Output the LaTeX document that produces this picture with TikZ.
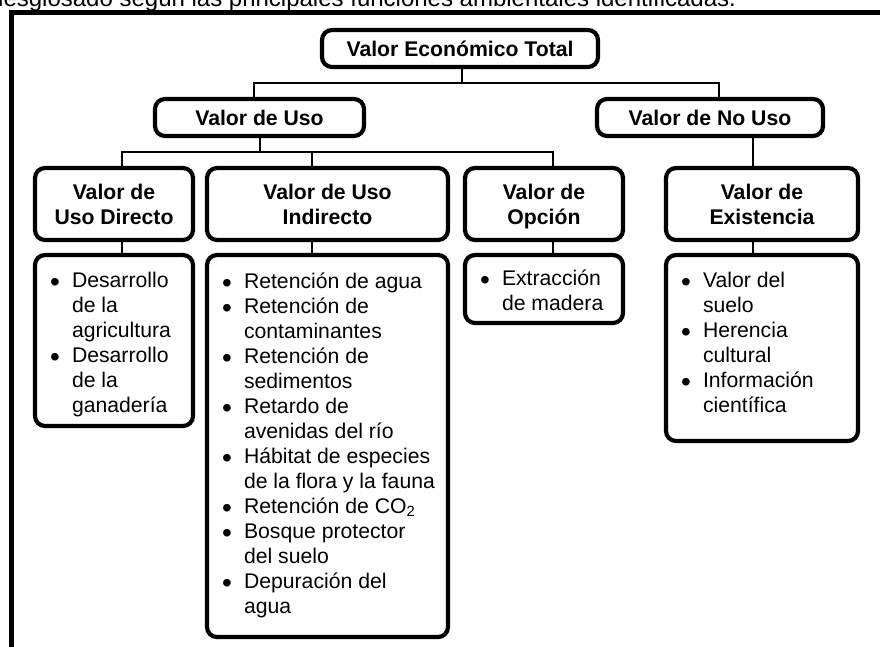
\documentclass[tikz,border=0pt]{standalone}
\usepackage{fontspec}
\setmainfont{Liberation Sans}
\usetikzlibrary{calc}
\newcommand\fitem[1]{\par\hangindent=21.9pt\hangafter=1\noindent\makebox[21.9pt][l]{\raisebox{-4.2pt}{\fontsize{28pt}{25pt}\selectfont\textbullet}}#1}
\newcommand\blist[1]{\parbox[t]{300pt}{#1\par}}
\begin{document}
\begin{tikzpicture}[x=1pt,y=1pt,
  box/.style={draw, line width=4.2pt, rounded corners=10pt, fill=white, outer sep=0pt, inner sep=0pt, align=center, text depth=0pt, font=\bfseries\fontsize{21.2pt}{25pt}\selectfont},
  conn/.style={line width=2.8pt},
  frameline/.style={line width=5pt},
  listtext/.style={anchor=base west, inner sep=0pt, outer sep=0pt, font=\fontsize{21.2pt}{25pt}\selectfont},
]
\useasboundingbox (0,0) rectangle (880,-646);
\clip (0,0) rectangle (880,-646);

% caption (clipped at the top)
\node[anchor=base west, inner sep=0pt, font=\fontsize{24pt}{28pt}\selectfont] (cap) at (-10,-6) {desglosado según las principales funciones ambientales identificadas.};

% frame
\draw[frameline] (11,-660) -- (11,-12) -- (890,-12);

% header boxes
\node[box, minimum width=276pt, minimum height=37pt] (vet) at (460,-48.5) {Valor Económico Total};
\node[box, minimum width=209pt, minimum height=37pt] (vu) at (259.5,-117.5) {Valor de Uso};
\node[box, minimum width=226pt, minimum height=37pt] (vnu) at (710,-117.5) {Valor de No Uso};
\node[box, minimum width=158pt, minimum height=72pt] (dir) at (114,-204) {Valor de\\Uso Directo};
\node[box, minimum width=241pt, minimum height=72pt] (ind) at (327.5,-204) {Valor de Uso\\Indirecto};
\node[box, minimum width=158pt, minimum height=72pt] (opc) at (544,-204) {Valor de\\Opción};
\node[box, minimum width=192pt, minimum height=72pt] (exi) at (762,-204) {Valor de\\Existencia};

% list boxes
\node[box, minimum width=158pt, minimum height=171pt] (dirl) at (114,-340.5) {};
\node[box, minimum width=241pt, minimum height=382pt] (indl) at (327.5,-446) {};
\node[box, minimum width=158pt, minimum height=68pt] (opcl) at (544,-289) {};
\node[box, minimum width=192pt, minimum height=186pt] (exil) at (762,-348) {};

% list texts
\node[listtext] (dirt) at ([xshift=15.1pt,yshift=-32pt]dirl.north west) {\blist{%
  \fitem{Desarrollo\\de la\\agricultura}%
  \fitem{Desarrollo\\de la\\ganadería}}};
\node[listtext] (indt) at ([xshift=15.1pt,yshift=-33pt]indl.north west) {\blist{%
  \fitem{Retención de agua}%
  \fitem{Retención de\\contaminantes}%
  \fitem{Retención de\\sedimentos}%
  \fitem{Retardo de\\avenidas del río}%
  \fitem{Hábitat de especies\\de la flora y la fauna}%
  \fitem{Retención de CO\textsubscript{2}}%
  \fitem{Bosque protector\\del suelo}%
  \fitem{Depuración del\\agua}}};
\node[listtext] (opct) at ([xshift=15.1pt,yshift=-30pt]opcl.north west) {\blist{%
  \fitem{Extracción\\de madera}}};
\node[listtext] (exit) at ([xshift=15.1pt,yshift=-32pt]exil.north west) {\blist{%
  \fitem{Valor del\\suelo}%
  \fitem{Herencia\\cultural}%
  \fitem{Información\\científica}}};

% connector positions
\coordinate (b1) at (0,-83);
\coordinate (b2) at (0,-152);
\coordinate (xvet) at (462,0);
\coordinate (xvua) at (254,0);
\coordinate (xvnua) at (719,0);
\coordinate (xvub) at (260,0);
\coordinate (xdir) at (122,0);
\coordinate (xind) at (312,0);
\coordinate (xopc) at (553,0);
\coordinate (xexi) at (753,0);

\draw[conn] (vet.south -| xvet) -- (b1 -| xvet);
\draw[conn] (vu.north -| xvua) |- (b1 -| xvnua) -- (vnu.north -| xvnua);
\draw[conn] (vu.south -| xvub) -- (b2 -| xvub);
\draw[conn] (dir.north -| xdir) |- (b2 -| xopc) -- (opc.north -| xopc);
\draw[conn] (ind.north -| xind) -- (b2 -| xind);
\draw[conn] (vnu.south -| xexi) -- (exi.north -| xexi);
\draw[conn] (dir.south -| xdir) -- (dirl.north -| xdir);
\draw[conn] (ind.south -| xind) -- (indl.north -| xind);
\draw[conn] (opc.south -| xopc) -- (opcl.north -| xopc);
\draw[conn] (exi.south -| xexi) -- (exil.north -| xexi);
\end{tikzpicture}
\end{document}
